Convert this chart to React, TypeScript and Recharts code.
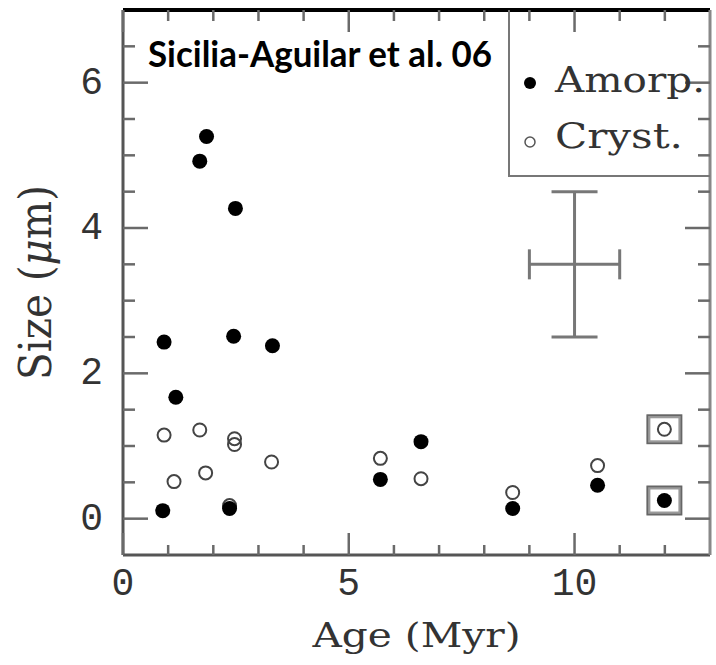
import React from 'react';
import { ScatterChart, Scatter, XAxis, YAxis, ErrorBar, Legend } from 'recharts';

// Amorphous grains (filled dots)
const amorphAge = [0.88, 0.91, 1.17, 1.7, 1.85, 2.49, 2.45, 2.36, 3.31, 5.7, 6.6, 8.63, 10.51, 11.99];
const amorphSize = [0.11, 2.43, 1.67, 4.92, 5.26, 4.27, 2.51, 0.14, 2.38, 0.54, 1.06, 0.14, 0.46, 0.25];

// Crystalline grains (open circles)
const crystAge = [0.91, 1.13, 1.7, 1.83, 2.47, 2.47, 2.36, 3.29, 5.7, 6.6, 8.63, 10.51, 11.99];
const crystSize = [1.15, 0.51, 1.22, 0.63, 1.1, 1.02, 0.18, 0.78, 0.83, 0.55, 0.36, 0.73, 1.23];

// points drawn with a box around them
const boxedAges = [11.99];

// typical error cross
const errAge = [10];
const errSize = [3.5];
const errAgeBar = [1];
const errSizeBar = [1];

const xTicks = [0, 1, 2, 3, 4, 5, 6, 7, 8, 9, 10, 11, 12];
const xMajor = [0, 5, 10];
const yTicks = [0, 0.5, 1, 1.5, 2, 2.5, 3, 3.5, 4, 4.5, 5, 5.5, 6, 6.5];
const yMajor = [0, 2, 4, 6];

const amorphData = amorphAge.map((x, i) => ({ x, y: amorphSize[i], boxed: boxedAges.includes(x) }));
const crystData = crystAge.map((x, i) => ({ x, y: crystSize[i], boxed: boxedAges.includes(x) }));
const errData = errAge.map((x, i) => ({ x, y: errSize[i], ex: errAgeBar[i], ey: errSizeBar[i] }));

const MONO = '"Liberation Mono", "DejaVu Sans Mono", monospace';
const SERIF = '"DejaVu Serif", "Liberation Serif", serif';
const TICK_COLOR = '#6a6a6a';
const TEXT_COLOR = '#333';

const BottomTick = (props: any) => {
  const { x, y, payload } = props;
  const major = xMajor.includes(payload.value);
  return (
    <g>
      <line x1={x} x2={x} y1={y} y2={y - (major ? 22 : 10)} stroke={TICK_COLOR} strokeWidth={2.5} />
      {major && (
        <text x={x} y={y + 40} textAnchor="middle" fontFamily={MONO} fontSize={38} fill={TEXT_COLOR}>
          {payload.value}
        </text>
      )}
    </g>
  );
};

const TopTick = (props: any) => {
  const { x, y, payload } = props;
  const major = xMajor.includes(payload.value);
  return <line x1={x} x2={x} y1={y} y2={y + (major ? 22 : 11)} stroke={TICK_COLOR} strokeWidth={2.5} />;
};

const LeftTick = (props: any) => {
  const { x, y, payload } = props;
  const major = yMajor.includes(payload.value);
  return (
    <g>
      <line x1={x} x2={x + (major ? 25 : 12)} y1={y} y2={y} stroke={TICK_COLOR} strokeWidth={2.5} />
      {major && (
        <text x={x - 20} y={y + 11} textAnchor="end" fontFamily={MONO} fontSize={38} fill={TEXT_COLOR}>
          {payload.value}
        </text>
      )}
    </g>
  );
};

const RightTick = (props: any) => {
  const { x, y, payload } = props;
  const major = yMajor.includes(payload.value);
  return <line x1={x} x2={x - (major ? 25 : 12)} y1={y} y2={y} stroke={TICK_COLOR} strokeWidth={2.5} />;
};

const BoxMark = ({ cx, cy }: { cx: number; cy: number }) => (
  <g>
    <rect x={cx - 16} y={cy - 13} width={32} height={26} fill="none" stroke="#9a9a9a" strokeWidth={4} />
    <rect x={cx - 17} y={cy - 14} width={34} height={28} fill="none" stroke="#666" strokeWidth={1.5} />
  </g>
);

const FilledDot = (props: any) => {
  const { cx, cy, payload } = props;
  return (
    <g>
      {payload.boxed && <BoxMark cx={cx} cy={cy} />}
      <circle cx={cx} cy={cy} r={7.5} fill="#000" />
    </g>
  );
};

const OpenDot = (props: any) => {
  const { cx, cy, payload } = props;
  return (
    <g>
      {payload.boxed && <BoxMark cx={cx} cy={cy} />}
      <circle cx={cx} cy={cy} r={6.5} fill="none" stroke="#444" strokeWidth={2} />
    </g>
  );
};

const NoDot = () => <g />;

const XLabel = (props: any) => {
  const vb = props.viewBox;
  return (
    <text
      x={vb.x + vb.width / 2}
      y={vb.y + 92}
      textAnchor="middle"
      fontFamily={SERIF}
      fontSize={34}
      textLength={208}
      lengthAdjust="spacingAndGlyphs"
      fill={TEXT_COLOR}
    >
      Age (Myr)
    </text>
  );
};

const YLabel = (props: any) => {
  const vb = props.viewBox;
  const cy = vb.y + vb.height / 2;
  return (
    <text
      transform={`translate(35, ${cy}) rotate(-90) scale(1, 1.4)`}
      textAnchor="middle"
      dominantBaseline="central"
      fontFamily={SERIF}
      fontSize={32}
      textLength={195}
      lengthAdjust="spacingAndGlyphs"
      fill={TEXT_COLOR}
    >
      Size (<tspan fontStyle="italic">μ</tspan>m)
    </text>
  );
};

const Title = (props: any) => {
  const vb = props.viewBox;
  return (
    <text
      x={vb.x + 25}
      y={vb.y + 58}
      fontFamily="Lato, 'Open Sans', sans-serif"
      fontWeight="bold"
      fontSize={36}
      textLength={344}
      lengthAdjust="spacingAndGlyphs"
      fill="#000"
    >
      Sicilia-Aguilar et al. 06
    </text>
  );
};

const LegendBox = () => (
  <svg width={202} height={167} style={{ display: 'block' }}>
    <line x1={1} x2={1} y1={0} y2={167} stroke="#777" strokeWidth={2} />
    <line x1={0} x2={202} y1={166} y2={166} stroke="#777" strokeWidth={2} />
    <circle cx={22} cy={73} r={6} fill="#000" />
    <text x={47} y={82} fontFamily={SERIF} fontSize={36} textLength={150} lengthAdjust="spacingAndGlyphs" fill={TEXT_COLOR}>
      Amorp.
    </text>
    <circle cx={22} cy={132} r={5} fill="none" stroke="#555" strokeWidth={1.5} />
    <text x={47} y={138} fontFamily={SERIF} fontSize={36} textLength={128} lengthAdjust="spacingAndGlyphs" fill={TEXT_COLOR}>
      Cryst.
    </text>
  </svg>
);

export default function App() {
  return (
    <div style={{ position: 'absolute', left: 0, top: 0, background: '#fff' }}>
      <ScatterChart width={716} height={665} margin={{ top: 9, right: 5, bottom: 0, left: 0 }}>
        <XAxis
          xAxisId="b"
          type="number"
          dataKey="x"
          domain={[0, 13]}
          allowDataOverflow
          ticks={xTicks}
          interval={0}
          tickSize={0}
          tickMargin={0}
          tickLine={false}
          tick={BottomTick}
          axisLine={{ stroke: '#555', strokeWidth: 3 }}
          height={110}
          label={{ content: XLabel }}
        />
        <XAxis
          xAxisId="t"
          orientation="top"
          type="number"
          dataKey="x"
          domain={[0, 13]}
          allowDataOverflow
          ticks={xTicks}
          interval={0}
          tickSize={0}
          tickMargin={0}
          tickLine={false}
          tick={TopTick}
          axisLine={{ stroke: '#000', strokeWidth: 4 }}
          height={1}
          label={{ content: Title }}
        />
        <YAxis
          yAxisId="l"
          type="number"
          dataKey="y"
          domain={[-0.5, 7]}
          allowDataOverflow
          ticks={yTicks}
          interval={0}
          tickSize={0}
          tickMargin={0}
          tickLine={false}
          tick={LeftTick}
          axisLine={{ stroke: '#555', strokeWidth: 3 }}
          width={123}
          label={{ content: YLabel }}
        />
        <YAxis
          yAxisId="r"
          orientation="right"
          type="number"
          dataKey="y"
          domain={[-0.5, 7]}
          allowDataOverflow
          ticks={yTicks}
          interval={0}
          tickSize={0}
          tickMargin={0}
          tickLine={false}
          tick={RightTick}
          axisLine={{ stroke: '#888', strokeWidth: 3 }}
          width={1}
        />
        <Legend
          layout="vertical"
          align="center"
          verticalAlign="middle"
          content={LegendBox}
          wrapperStyle={{ left: 508, top: 10, width: 202, height: 167, right: 'auto', bottom: 'auto' }}
        />
        <Scatter
          name="Error"
          data={errData}
          xAxisId="b"
          yAxisId="l"
          shape={NoDot}
          isAnimationActive={false}
          legendType="none"
        >
          <ErrorBar dataKey="ex" direction="x" width={15} stroke="#777" strokeWidth={3} isAnimationActive={false} />
          <ErrorBar dataKey="ey" direction="y" width={23} stroke="#777" strokeWidth={3} isAnimationActive={false} />
        </Scatter>
        {/* hidden series so the top and right frame axes get their scales */}
        <Scatter data={amorphData} xAxisId="t" yAxisId="r" shape={NoDot} isAnimationActive={false} legendType="none" />
        <Scatter name="Cryst." data={crystData} xAxisId="b" yAxisId="l" shape={OpenDot} isAnimationActive={false} />
        <Scatter name="Amorp." data={amorphData} xAxisId="b" yAxisId="l" shape={FilledDot} isAnimationActive={false} />
      </ScatterChart>
    </div>
  );
}
